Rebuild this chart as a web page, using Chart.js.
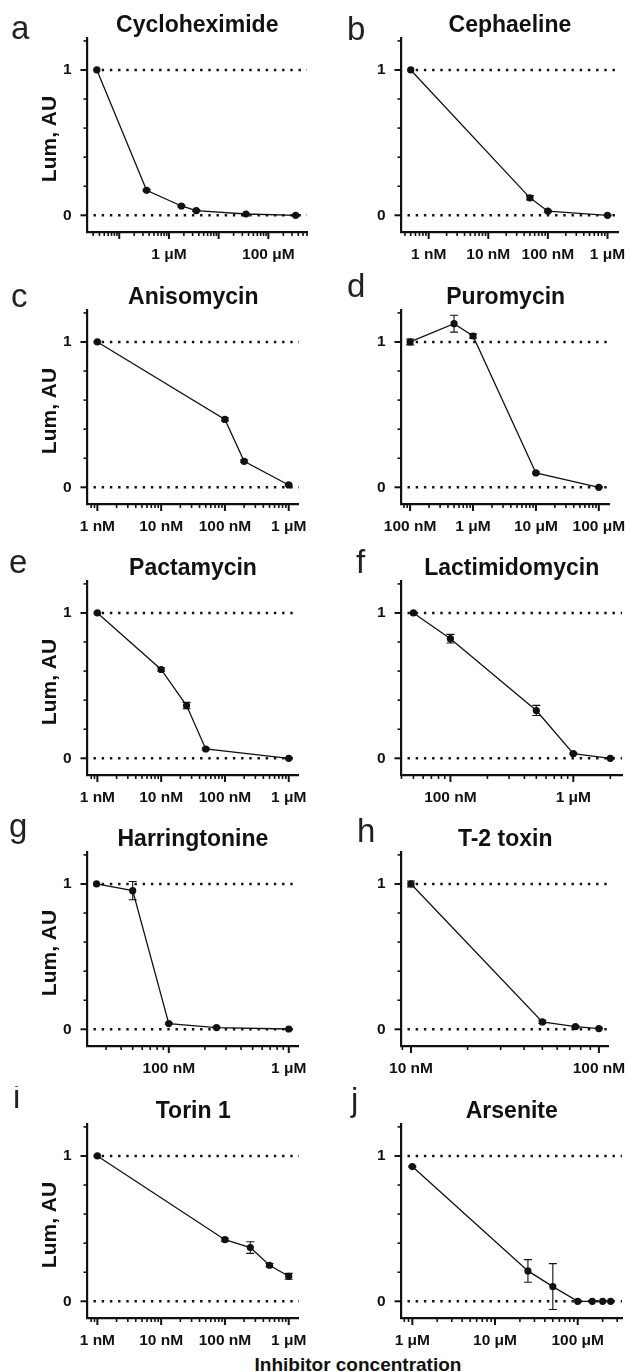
<!DOCTYPE html>
<html>
<head>
<meta charset="utf-8">
<script src="https://cdn.jsdelivr.net/npm/chart.js@4.4.1/dist/chart.umd.min.js"></script>
<style>
  body { margin: 0; background: #fff; width: 639px; height: 1372px; position: relative; overflow: hidden; }
  canvas { position: absolute; }
  #xlabel { position: absolute; left: 200px; width: 316px; top: 1355px; text-align: center;
            font: bold 19px/19px "Liberation Sans", Arial, sans-serif; color: #111; white-space: nowrap; }
</style>
</head>
<body>
<div id="xlabel">Inhibitor concentration</div>
<script>
// concentrations are in nM, luminescence normalised to untreated
const letters = ['a', 'b', 'c', 'd', 'e', 'f', 'g', 'h', 'i', 'j'];
const titles = ['Cycloheximide', 'Cephaeline', 'Anisomycin', 'Puromycin', 'Pactamycin',
                'Lactimidomycin', 'Harringtonine', 'T-2 toxin', 'Torin 1', 'Arsenite'];
const yTitle = 'Lum, AU';

const cycloConc = [35.5, 355, 1780, 3550, 35500, 355000];
const cycloLum = [1, 0.172, 0.064, 0.032, 0.009, 0.0];
const cycloErr = [0, 0.006, 0.006, 0.005, 0.003, 0.002];
const cycloTicks = [1000, 100000];
const cycloRange = [23, 600000];

const cephConc = [0.5, 50, 100, 1000];
const cephLum = [1, 0.12, 0.028, 0.0];
const cephErr = [0, 0.015, 0.006, 0.003];
const cephTicks = [1, 10, 100, 1000];
const cephRange = [0.35, 1520];

const anisoConc = [1, 100, 200, 1000];
const anisoLum = [1, 0.467, 0.179, 0.016];
const anisoErr = [0, 0.01, 0.008, 0.005];
const anisoTicks = [1, 10, 100, 1000];
const anisoRange = [0.71, 1450];

const puroConc = [100, 500, 1000, 10000, 100000];
const puroLum = [1.0, 1.126, 1.041, 0.099, 0.0];
const puroErr = [0.02, 0.058, 0.015, 0.006, 0.003];
const puroTicks = [100, 1000, 10000, 100000];
const puroRange = [73, 150000];

const pactaConc = [1, 10, 25, 50, 1000];
const pactaLum = [1, 0.611, 0.363, 0.064, 0.0];
const pactaErr = [0, 0.012, 0.022, 0.006, 0.003];
const pactaTicks = [1, 10, 100, 1000];
const pactaRange = [0.71, 1420];

const lactiConc = [50, 100, 500, 1000, 2000];
const lactiLum = [1, 0.823, 0.329, 0.032, 0.0];
const lactiErr = [0, 0.03, 0.035, 0.005, 0.003];
const lactiTicks = [100, 1000];
const lactiRange = [40, 2490];

const harrConc = [25, 50, 100, 250, 1000];
const harrLum = [1, 0.954, 0.039, 0.012, 0.002];
const harrErr = [0, 0.063, 0.006, 0.004, 0.003];
const harrTicks = [100, 1000];
const harrRange = [21, 1200];

const t2Conc = [10, 50, 75, 100];
const t2Lum = [1, 0.051, 0.018, 0.005];
const t2Err = [0.02, 0.01, 0.005, 0.003];
const t2Ticks = [10, 100];
const t2Range = [8.9, 113];

const torinConc = [1, 100, 250, 500, 1000];
const torinLum = [1, 0.424, 0.37, 0.248, 0.172];
const torinErr = [0, 0.01, 0.04, 0.012, 0.02];
const torinTicks = [1, 10, 100, 1000];
const torinRange = [0.72, 1450];

const arsConc = [1000, 25000, 50000, 100000, 150000, 200000, 250000];
const arsLum = [0.927, 0.209, 0.101, 0, 0, 0, 0];
const arsErr = [0.005, 0.078, 0.158, 0, 0, 0, 0];
const arsTicks = [1000, 10000, 100000];
const arsRange = [740, 343000];

const yLabelVals = [0, 1];
const yTickVals = [0, 0.2, 0.4, 0.6, 0.8, 1, 1.2];
const refLines = [0, 1];

const panels = [
  {conc: cycloConc, lum: cycloLum, err: cycloErr, ticks: cycloTicks, range: cycloRange},
  {conc: cephConc, lum: cephLum, err: cephErr, ticks: cephTicks, range: cephRange},
  {conc: anisoConc, lum: anisoLum, err: anisoErr, ticks: anisoTicks, range: anisoRange},
  {conc: puroConc, lum: puroLum, err: puroErr, ticks: puroTicks, range: puroRange},
  {conc: pactaConc, lum: pactaLum, err: pactaErr, ticks: pactaTicks, range: pactaRange},
  {conc: lactiConc, lum: lactiLum, err: lactiErr, ticks: lactiTicks, range: lactiRange},
  {conc: harrConc, lum: harrLum, err: harrErr, ticks: harrTicks, range: harrRange},
  {conc: t2Conc, lum: t2Lum, err: t2Err, ticks: t2Ticks, range: t2Range},
  {conc: torinConc, lum: torinLum, err: torinErr, ticks: torinTicks, range: torinRange},
  {conc: arsConc, lum: arsLum, err: arsErr, ticks: arsTicks, range: arsRange}
];

// layout (canvas coords)
const rowTops = [0, 272, 543, 814, 1086];
const letterPos = [[11, 39], [27, 40], [11, 35], [27, 25], [9, 30], [36, 30], [9, 23], [37, 28], [13, 22], [31, 25]];
const FONT = '"Liberation Sans", Arial, sans-serif';
const INK = '#111';

function fmtConc(v) {
  return v >= 1000 ? (v / 1000) + ' μM' : v + ' nM';
}

function makeDecor(p, idx, col) {
  return {
    id: 'decor' + idx,
    beforeDatasetsDraw(chart) {
      const {ctx, chartArea: a, scales: {x, y}} = chart;
      ctx.save();
      ctx.strokeStyle = INK;
      // dotted reference lines
      ctx.lineWidth = 2.4;
      ctx.setLineDash([2.4, 5.8]);
      refLines.forEach(function (v) {
        const py = y.getPixelForValue(v);
        ctx.beginPath();
        ctx.moveTo(a.left + 6, py);
        ctx.lineTo(a.right, py);
        ctx.stroke();
      });
      ctx.setLineDash([]);
      // error bars
      ctx.lineWidth = 1.1;
      p.conc.forEach(function (c, i) {
        const e = p.err[i];
        if (!e) return;
        const px = x.getPixelForValue(c);
        const y1 = y.getPixelForValue(p.lum[i] + e);
        const y2 = y.getPixelForValue(p.lum[i] - e);
        ctx.beginPath();
        ctx.moveTo(px, y1); ctx.lineTo(px, y2);
        ctx.moveTo(px - 4, y1); ctx.lineTo(px + 4, y1);
        ctx.moveTo(px - 4, y2); ctx.lineTo(px + 4, y2);
        ctx.stroke();
      });
      ctx.restore();
    },
    afterDraw(chart) {
      const {ctx, chartArea: a, scales: {x, y}} = chart;
      ctx.save();
      ctx.strokeStyle = INK;
      // y tick marks
      yTickVals.forEach(function (v) {
        const py = y.getPixelForValue(v);
        const major = yLabelVals.indexOf(v) >= 0;
        ctx.lineWidth = major ? 2 : 1.6;
        ctx.beginPath();
        ctx.moveTo(a.left, py);
        ctx.lineTo(a.left - (major ? 7 : 4), py);
        ctx.stroke();
      });
      // x tick marks, log decades with minor 2..9
      const d0 = Math.floor(Math.log10(p.range[0]));
      const d1 = Math.ceil(Math.log10(p.range[1]));
      for (let d = d0; d <= d1; d++) {
        for (let m = 1; m <= 9; m++) {
          const v = m * Math.pow(10, d);
          if (v < p.range[0] || v > p.range[1]) continue;
          const px = x.getPixelForValue(v);
          ctx.lineWidth = m === 1 ? 2 : 1.6;
          ctx.beginPath();
          ctx.moveTo(px, a.bottom);
          ctx.lineTo(px, a.bottom + (m === 1 ? 7 : 4));
          ctx.stroke();
        }
      }
      // title and panel letter
      ctx.fillStyle = INK;
      ctx.textAlign = 'center';
      ctx.textBaseline = 'alphabetic';
      ctx.font = 'bold 23px ' + FONT;
      ctx.fillText(titles[idx], (a.left + a.right) / 2, 32);
      // y axis title on the left column
      if (col === 0) {
        ctx.save();
        ctx.translate(50, 139);
        ctx.rotate(-Math.PI / 2);
        ctx.textBaseline = 'middle';
        ctx.font = 'bold 21px ' + FONT;
        ctx.fillText(yTitle, 0, 0);
        ctx.restore();
      }
      ctx.textAlign = 'left';
      ctx.font = '33px ' + FONT;
      ctx.fillStyle = '#222';
      ctx.fillText(letters[idx], letterPos[idx][0], letterPos[idx][1]);
      ctx.restore();
    }
  };
}

panels.forEach(function (p, idx) {
  const col = idx % 2;
  const row = Math.floor(idx / 2);
  const cv = document.createElement('canvas');
  const w = col === 0 ? 320 : 319;
  cv.width = w;
  cv.height = 272;
  cv.style.left = (col === 0 ? 0 : 320) + 'px';
  cv.style.top = rowTops[row] + 'px';
  document.body.appendChild(cv);

  const yWidth = col === 0 ? 87.5 : 81.5;
  const padRight = col === 0 ? 13 : 17;
  const tickFont = {family: FONT, size: 15.5, weight: 'bold'};

  new Chart(cv, {
    type: 'line',
    data: {
      datasets: [{
        data: p.conc.map(function (c, i) { return {x: c, y: p.lum[i]}; }),
        borderColor: INK,
        borderWidth: 1.3,
        pointRadius: 3.6,
        pointBackgroundColor: INK,
        pointBorderWidth: 0,
        tension: 0
      }]
    },
    options: {
      responsive: false,
      animation: false,
      layout: {padding: {top: 38, left: 0, right: padRight, bottom: 0}},
      plugins: {legend: {display: false}, tooltip: {enabled: false}},
      scales: {
        x: {
          type: 'logarithmic',
          min: p.range[0],
          max: p.range[1],
          grid: {display: false, drawTicks: false},
          border: {display: true, width: 2.2, color: INK},
          afterBuildTicks: function (s) { s.ticks = p.ticks.map(function (v) { return {value: v}; }); },
          afterFit: function (s) { s.height = 40; },
          ticks: {
            autoSkip: false, maxRotation: 0, padding: 13, color: INK, font: tickFont,
            callback: function (v) { return fmtConc(v); }
          }
        },
        y: {
          min: -0.115,
          max: 1.22,
          grid: {display: false, drawTicks: false},
          border: {display: true, width: 2.2, color: INK},
          afterBuildTicks: function (s) { s.ticks = yLabelVals.map(function (v) { return {value: v}; }); },
          afterFit: function (s) { s.width = yWidth; },
          ticks: {
            padding: 16, color: INK, font: tickFont,
            callback: function (v) { return String(v); }
          }
        }
      }
    },
    plugins: [makeDecor(p, idx, col)]
  });
});
</script>
</body>
</html>
